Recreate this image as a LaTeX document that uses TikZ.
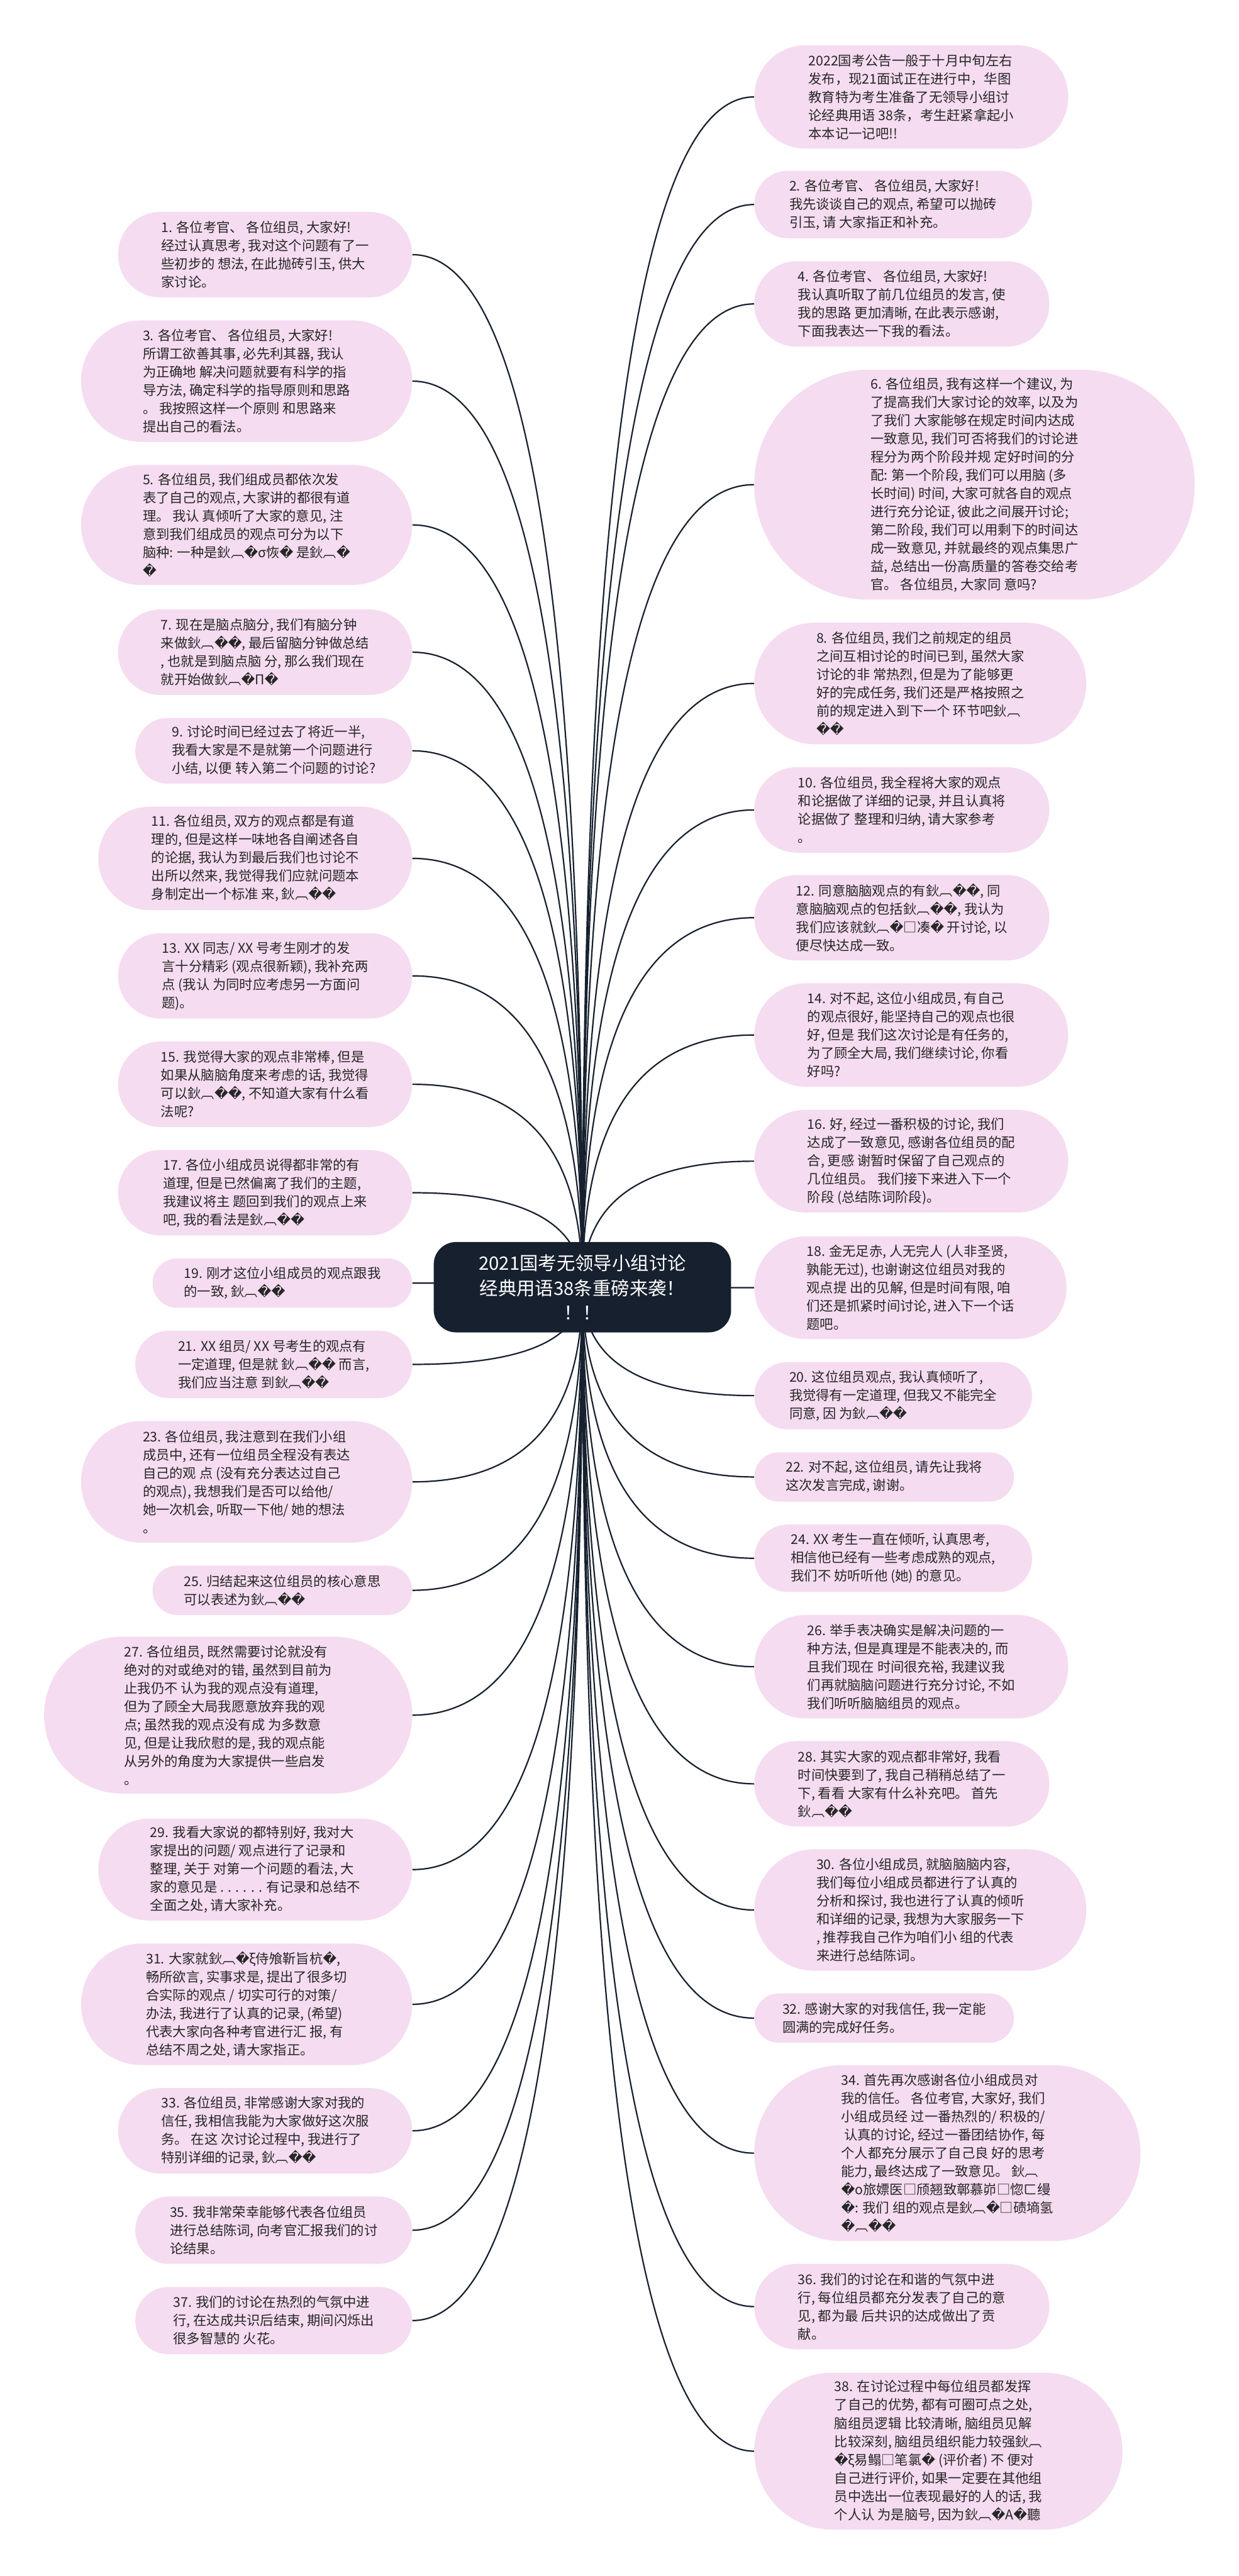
\documentclass[tikz,border=0pt]{standalone}
\usepackage{fontspec}
\usepackage{tikz}
\usepackage{xcolor}
\usetikzlibrary{calc,backgrounds}
\setmainfont{Noto Sans CJK SC}
\newfontfamily\dvs{DejaVu Sans}
\definecolor{leafpink}{HTML}{F5DCF0}
\definecolor{rootnavy}{HTML}{16202E}
\newcommand\qmark{{\dvs �}}
\newcommand\leaffont{\fontsize{11.6}{15.8}\selectfont}
\newcommand\rootfont{\fontsize{16}{21.5}\selectfont}

\begin{document}
\begin{tikzpicture}[
      x=0.05cm, y=-0.05cm,
      leaf/.style 2 args={rectangle,fill=leafpink,rounded corners=#2*0.0249cm,minimum width=#1*0.05cm,minimum height=#2*0.05cm,align=left,inner sep=2pt,text=black!85,font=\leaffont},
      root/.style={rectangle,fill=rootnavy,rounded corners=0.68cm,minimum width=9.05cm,minimum height=2.75cm,align=center,text=white,font=\rootfont},
      branch/.style={draw=rootnavy,line width=1.2pt}
    ]
    \path[use as bounding box] (0,0) rectangle (754,1568);
    \node[root] (root) at (354.5,783.5) {2021国考无领导小组讨论\\经典用语38条重磅来袭！\\！！};

    % right side
    \node[leaf={191}{63},anchor=west] (intro) at (459,59) {2022国考公告一般于十月中旬左右\\
      发布，现21面试正在进行中，华图\\
      教育特为考生准备了无领导小组讨\\
      论经典用语 38条，考生赶紧拿起小\\
      本本记一记吧!!};
    \node[leaf={169}{41},anchor=west] (n2) at (459,124.5) {2. 各位考官、 各位组员, 大家好!\\
      我先谈谈自己的观点, 希望可以抛砖\\
      引玉, 请 大家指正和补充。};
    \node[leaf={179.5}{52},anchor=west] (n4) at (459,185) {4. 各位考官、 各位组员, 大家好!\\
      我认真听取了前几位组员的发言, 使\\
      我的思路 更加清晰, 在此表示感谢,\\
      下面我表达一下我的看法。};
    \node[leaf={268}{140},anchor=west] (n6) at (459,295) {6. 各位组员, 我有这样一个建议, 为\\
      了提高我们大家讨论的效率, 以及为\\
      了我们 大家能够在规定时间内达成\\
      一致意见, 我们可否将我们的讨论进\\
      程分为两个阶段并规 定好时间的分\\
      配: 第一个阶段, 我们可以用脑 (多\\
      长时间) 时间, 大家可就各自的观点\\
      进行充分论证, 彼此之间展开讨论;\\
      第二阶段, 我们可以用剩下的时间达\\
      成一致意见, 并就最终的观点集思广\\
      益, 总结出一份高质量的答卷交给考\\
      官。 各位组员, 大家同 意吗?};
    \node[leaf={202}{74},anchor=west] (n8) at (459,416) {8. 各位组员, 我们之前规定的组员\\
      之间互相讨论的时间已到, 虽然大家\\
      讨论的非 常热烈, 但是为了能够更\\
      好的完成任务, 我们还是严格按照之\\
      前的规定进入到下一个 环节吧鈥︹\\
      \qmark\qmark};
    \node[leaf={179.5}{52},anchor=west] (n10) at (459,493) {10. 各位组员, 我全程将大家的观点\\
      和论据做了详细的记录, 并且认真将\\
      论据做了 整理和归纳, 请大家参考\\
      。};
    \node[leaf={179.5}{52},anchor=west] (n12) at (459,558.6) {12. 同意脑脑观点的有鈥︹\qmark\qmark, 同\\
      意脑脑观点的包括鈥︹\qmark\qmark, 我认为\\
      我们应该就鈥︹\qmark □凑\qmark{} 开讨论, 以\\
      便尽快达成一致。};
    \node[leaf={191}{63},anchor=west] (n14) at (459,630) {14. 对不起, 这位小组成员, 有自己\\
      的观点很好, 能坚持自己的观点也很\\
      好, 但是 我们这次讨论是有任务的,\\
      为了顾全大局, 我们继续讨论, 你看\\
      好吗?};
    \node[leaf={191}{62.5},anchor=west] (n16) at (459,706.8) {16. 好, 经过一番积极的讨论, 我们\\
      达成了一致意见, 感谢各位组员的配\\
      合, 更感 谢暂时保留了自己观点的\\
      几位组员。 我们接下来进入下一个\\
      阶段 (总结陈词阶段)。};
    \node[leaf={190}{62.4},anchor=west] (n18) at (459,783.8) {18. 金无足赤, 人无完人 (人非圣贤,\\
      孰能无过), 也谢谢这位组员对我的\\
      观点提 出的见解, 但是时间有限, 咱\\
      们还是抓紧时间讨论, 进入下一个话\\
      题吧。};
    \node[leaf={169}{41},anchor=west] (n20) at (459,849.5) {20. 这位组员观点, 我认真倾听了,\\
      我觉得有一定道理, 但我又不能完全\\
      同意, 因 为鈥︹\qmark\qmark};
    \node[leaf={158}{30},anchor=west] (n22) at (459,899) {22. 对不起, 这位组员, 请先让我将\\
      这次发言完成, 谢谢。};
    \node[leaf={169}{41},anchor=west] (n24) at (459,948.5) {24. XX 考生一直在倾听, 认真思考,\\
      相信他已经有一些考虑成熟的观点,\\
      我们不 妨听听他 (她) 的意见。};
    \node[leaf={191}{63},anchor=west] (n26) at (459,1014.5) {26. 举手表决确实是解决问题的一\\
      种方法, 但是真理是不能表决的, 而\\
      且我们现在 时间很充裕, 我建议我\\
      们再就脑脑问题进行充分讨论, 不如\\
      我们听听脑脑组员的观点。};
    \node[leaf={179.5}{52},anchor=west] (n28) at (459,1085.8) {28. 其实大家的观点都非常好, 我看\\
      时间快要到了, 我自己稍稍总结了一\\
      下, 看看 大家有什么补充吧。 首先\\
      鈥︹\qmark\qmark};
    \node[leaf={202}{74},anchor=west] (n30) at (459,1162.6) {30. 各位小组成员, 就脑脑脑内容,\\
      我们每位小组成员都进行了认真的\\
      分析和探讨, 我也进行了认真的倾听\\
      和详细的记录, 我想为大家服务一下\\
      , 推荐我自己作为咱们小 组的代表\\
      来进行总结陈词。};
    \node[leaf={158}{30},anchor=west] (n32) at (459,1228.4) {32. 感谢大家的对我信任, 我一定能\\
      圆满的完成好任务。};
    \node[leaf={235}{107},anchor=west] (n34) at (459,1310.6) {34. 首先再次感谢各位小组成员对\\
      我的信任。 各位考官, 大家好, 我们\\
      小组成员经 过一番热烈的/ 积极的/\\
      \ 认真的讨论, 经过一番团结协作, 每\\
      个人都充分展示了自己良 好的思考\\
      能力, 最终达成了一致意见。 鈥︹\\
      \qmark o旅嫖医□颀翘致鄣慕峁□惚ㄈ缦\\
      \qmark: 我们 组的观点是鈥︹\qmark □碛墒氢\\
      \qmark ︹\qmark\qmark};
    \node[leaf={179.5}{52},anchor=west] (n36) at (459,1404) {36. 我们的讨论在和谐的气氛中进\\
      行, 每位组员都充分发表了自己的意\\
      见, 都为最 后共识的达成做出了贡\\
      献。};
    \node[leaf={224}{95.5},anchor=west] (n38) at (459,1492) {38. 在讨论过程中每位组员都发挥\\
      了自己的优势, 都有可圈可点之处,\\
      脑组员逻辑 比较清晰, 脑组员见解\\
      比较深刻, 脑组员组织能力较强鈥︹\\
      \qmark ξ易鳎□笔氯\qmark{} (评价者) 不 便对\\
      自己进行评价, 如果一定要在其他组\\
      员中选出一位表现最好的人的话, 我\\
      个人认 为是脑号, 因为鈥︹\qmark A\qmark 聽};

    % left side
    \node[leaf={179}{52},anchor=east] (n1) at (251,155) {1. 各位考官、 各位组员, 大家好!\\
      经过认真思考, 我对这个问题有了一\\
      些初步的 想法, 在此抛砖引玉, 供大\\
      家讨论。};
    \node[leaf={201.5}{74},anchor=east] (n3) at (251,232) {3. 各位考官、 各位组员, 大家好!\\
      所谓工欲善其事, 必先利其器, 我认\\
      为正确地 解决问题就要有科学的指\\
      导方法, 确定科学的指导原则和思路\\
      。 我按照这样一个原则 和思路来\\
      提出自己的看法。};
    \node[leaf={201.5}{73},anchor=east] (n5) at (251,319.5) {5. 各位组员, 我们组成员都依次发\\
      表了自己的观点, 大家讲的都很有道\\
      理。 我认 真倾听了大家的意见, 注\\
      意到我们组成员的观点可分为以下\\
      脑种: 一种是鈥︹\qmark σ恢\qmark{} 是鈥︹\qmark\\
      \qmark};
    \node[leaf={179}{52},anchor=east] (n7) at (251,397) {7. 现在是脑点脑分, 我们有脑分钟\\
      来做鈥︹\qmark\qmark, 最后留脑分钟做总结\\
      , 也就是到脑点脑 分, 那么我们现在\\
      就开始做鈥︹\qmark Π\qmark};
    \node[leaf={168.5}{40},anchor=east] (n9) at (251,457) {9. 讨论时间已经过去了将近一半,\\
      我看大家是不是就第一个问题进行\\
      小结, 以便 转入第二个问题的讨论?};
    \node[leaf={191}{63},anchor=east] (n11) at (251,522.5) {11. 各位组员, 双方的观点都是有道\\
      理的, 但是这样一味地各自阐述各自\\
      的论据, 我认为到最后我们也讨论不\\
      出所以然来, 我觉得我们应就问题本\\
      身制定出一个标准 来, 鈥︹\qmark\qmark};
    \node[leaf={179}{52},anchor=east] (n13) at (251,594) {13. XX 同志/ XX 号考生刚才的发\\
      言十分精彩 (观点很新颖), 我补充两\\
      点 (我认 为同时应考虑另一方面问\\
      题)。};
    \node[leaf={179}{52},anchor=east] (n15) at (251,660) {15. 我觉得大家的观点非常棒, 但是\\
      如果从脑脑角度来考虑的话, 我觉得\\
      可以鈥︹\qmark\qmark, 不知道大家有什么看\\
      法呢?};
    \node[leaf={179}{52},anchor=east] (n17) at (251,726) {17. 各位小组成员说得都非常的有\\
      道理, 但是已然偏离了我们的主题,\\
      我建议将主 题回到我们的观点上来\\
      吧, 我的看法是鈥︹\qmark\qmark};
    \node[leaf={158}{30},anchor=east] (n19) at (251,781) {19. 刚才这位小组成员的观点跟我\\
      的一致, 鈥︹\qmark\qmark};
    \node[leaf={168.5}{41},anchor=east] (n21) at (251,830.5) {21. XX 组员/ XX 号考生的观点有\\
      一定道理, 但是就 鈥︹\qmark\qmark{} 而言,\\
      我们应当注意 到鈥︹\qmark\qmark};
    \node[leaf={201.5}{74},anchor=east] (n23) at (251,902) {23. 各位组员, 我注意到在我们小组\\
      成员中, 还有一位组员全程没有表达\\
      自己的观 点 (没有充分表达过自己\\
      的观点), 我想我们是否可以给他/\\
      她一次机会, 听取一下他/ 她的想法\\
      。};
    \node[leaf={158}{30},anchor=east] (n25) at (251,968) {25. 归结起来这位组员的核心意思\\
      可以表述为鈥︹\qmark\qmark};
    \node[leaf={224}{95.5},anchor=east] (n27) at (251,1044) {27. 各位组员, 既然需要讨论就没有\\
      绝对的对或绝对的错, 虽然到目前为\\
      止我仍不 认为我的观点没有道理,\\
      但为了顾全大局我愿意放弃我的观\\
      点; 虽然我的观点没有成 为多数意\\
      见, 但是让我欣慰的是, 我的观点能\\
      从另外的角度为大家提供一些启发\\
      。};
    \node[leaf={191}{62},anchor=east] (n29) at (251,1138) {29. 我看大家说的都特别好, 我对大\\
      家提出的问题/ 观点进行了记录和\\
      整理, 关于 对第一个问题的看法, 大\\
      家的意见是 . . . . . . 有记录和总结不\\
      全面之处, 请大家补充。};
    \node[leaf={201.5}{74},anchor=east] (n31) at (251,1220) {31. 大家就鈥︹\qmark ξ侍飧靳旨杭\qmark,\\
      畅所欲言, 实事求是, 提出了很多切\\
      合实际的观点 / 切实可行的对策/\\
      办法, 我进行了认真的记录, (希望)\\
      代表大家向各种考官进行汇 报, 有\\
      总结不周之处, 请大家指正。};
    \node[leaf={179}{52},anchor=east] (n33) at (251,1297) {33. 各位组员, 非常感谢大家对我的\\
      信任, 我相信我能为大家做好这次服\\
      务。 在这 次讨论过程中, 我进行了\\
      特别详细的记录, 鈥︹\qmark\qmark};
    \node[leaf={168.5}{41},anchor=east] (n35) at (251,1357.5) {35. 我非常荣幸能够代表各位组员\\
      进行总结陈词, 向考官汇报我们的讨\\
      论结果。};
    \node[leaf={168.5}{41},anchor=east] (n37) at (251,1412.5) {37. 我们的讨论在热烈的气氛中进\\
      行, 在达成共识后结束, 期间闪烁出\\
      很多智慧的 火花。};

    % branches behind the nodes
    \begin{scope}[on background layer]
      \fill[white] (0,0) rectangle (754,1568);
      \foreach \n in {intro,n2,n4,n6,n8,n10,n12,n14,n16,n18,n20,n22,n24,n26,n28,n30,n32,n34,n36,n38}
        \draw[branch] (root.center) .. controls ($(root.center)!0.67!(root.center |- \n.west)$) and ($(\n.west)!0.67!(root.center |- \n.west)$) .. (\n.west);
      \foreach \n in {n1,n3,n5,n7,n9,n11,n13,n15,n17,n19,n21,n23,n25,n27,n29,n31,n33,n35,n37}
        \draw[branch] (root.center) .. controls ($(root.center)!0.67!(root.center |- \n.east)$) and ($(\n.east)!0.67!(root.center |- \n.east)$) .. (\n.east);
    \end{scope}
  \end{tikzpicture}
\end{document}
